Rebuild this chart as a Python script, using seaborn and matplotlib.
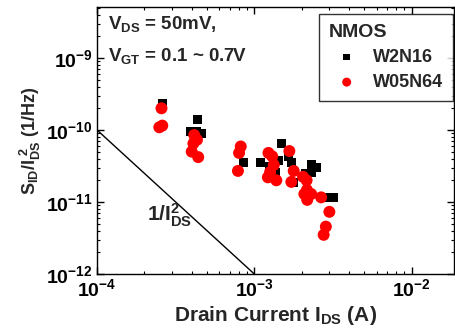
import numpy as np
import pandas as pd
import matplotlib
matplotlib.use("Agg")
import matplotlib.pyplot as plt
import seaborn as sns
from matplotlib.ticker import LogLocator, NullFormatter

sns.set_theme(style="ticks")
plt.rcParams['font.family'] = ['Liberation Sans', 'DejaVu Sans']
plt.rcParams['font.weight'] = 'bold'
plt.rcParams['mathtext.fontset'] = 'custom'
plt.rcParams['mathtext.rm'] = 'Liberation Sans:bold'
plt.rcParams['mathtext.it'] = 'Liberation Sans:bold'
plt.rcParams['mathtext.bf'] = 'Liberation Sans:bold'
plt.rcParams['mathtext.default'] = 'bf'

# W2N16 (black squares)
w2_x = [2.6e-4, 4.37e-4, 3.91e-4, 4.27e-4, 4.65e-4, 8.55e-4, 1.1e-3, 1.49e-3, 1.43e-3,
        1.25e-3, 1.37e-3, 1.64e-3, 1.72e-3, 1.78e-3, 2.11e-3, 2.3e-3, 2.48e-3, 2.3e-3,
        2.97e-3, 3.2e-3]
w2_y = [2.34e-10, 1.38e-10, 9.5e-11, 9.5e-11, 9.0e-11, 3.5e-11, 3.5e-11, 6.4e-11, 3.75e-11,
        3.1e-11, 2.6e-11, 4.3e-11, 3.5e-11, 1.86e-11, 2.5e-11, 3.27e-11, 3.0e-11, 2.56e-11,
        1.16e-11, 1.16e-11]

# W05N64 (red circles)
w05_x = [2.57e-4, 2.49e-4, 2.6e-4, 4.15e-4, 4.32e-4, 4.1e-4, 4.0e-4, 4.4e-4, 8.2e-4, 8.0e-4,
         7.87e-4, 1.23e-3, 1.3e-3, 1.33e-3, 1.26e-3, 1.22e-3, 1.38e-3, 1.67e-3, 1.78e-3,
         1.72e-3, 2.04e-3, 2.15e-3, 2.16e-3, 2.08e-3, 2.3e-3, 2.17e-3, 2.66e-3, 3.0e-3,
         2.85e-3, 2.76e-3]
w05_y = [2.0e-10, 1.09e-10, 1.15e-10, 8.5e-11, 7.3e-11, 6.5e-11, 5.0e-11, 4.2e-11, 5.9e-11,
         4.8e-11, 2.7e-11, 4.8e-11, 4.3e-11, 3.27e-11, 2.6e-11, 2.2e-11, 2.0e-11, 5.1e-11,
         2.7e-11, 1.9e-11, 2.24e-11, 2.0e-11, 1.47e-11, 1.29e-11, 1.29e-11, 1.07e-11,
         1.16e-11, 7.3e-12, 4.55e-12, 3.5e-12]

# 1/I^2 reference line
ref_x = np.array([1e-4, 1e-3])
ref_y = 1e-18 / ref_x**2

fig = plt.figure(figsize=(4.56, 3.33), dpi=100)
ax = fig.add_axes([97/456, 1 - 274/333, 357/456, 267/333])

sns.lineplot(x=ref_x, y=ref_y, ax=ax, color='black', linewidth=1.0, legend=False)
sns.scatterplot(x=w2_x, y=w2_y, ax=ax, marker='s', color='black', s=42,
                edgecolor='none', label='W2N16', zorder=3)
sns.scatterplot(x=w05_x, y=w05_y, ax=ax, marker='o', color='#ff0000', s=74,
                edgecolor='none', label='W05N64', zorder=4)

ax.set_xscale('log')
ax.set_yscale('log')
ax.set_xlim(1e-4, 1.86e-2)
ax.set_ylim(1e-12, 5.1e-9)

ax.xaxis.set_major_locator(LogLocator(base=10, numticks=10))
ax.xaxis.set_minor_locator(LogLocator(base=10, subs=np.arange(2, 10), numticks=20))
ax.yaxis.set_major_locator(LogLocator(base=10, numticks=10))
ax.yaxis.set_minor_locator(LogLocator(base=10, subs=np.arange(2, 10), numticks=20))
ax.xaxis.set_minor_formatter(NullFormatter())
ax.yaxis.set_minor_formatter(NullFormatter())

ax.tick_params(which='both', direction='in', top=True, right=True, colors='black',
               labelsize=14, pad=3)
ax.tick_params(which='major', length=5, width=1)
ax.tick_params(which='minor', length=2.5, width=0.8)
for lab in ax.get_xticklabels() + ax.get_yticklabels():
    lab.set_fontweight('bold')
for sp in ax.spines.values():
    sp.set_color('black')
    sp.set_linewidth(1.0)

ax.set_xlabel(r'Drain Current I$_{\mathbf{DS}}$ (A)', fontsize=15, fontweight='bold')
ax.xaxis.set_label_coords(0.5, -0.112)
ax.set_ylabel(r'S$_{\mathbf{ID}}$/I$_{\mathbf{DS}}^{\mathbf{\ 2}}$ (1/Hz)', fontsize=13,
              fontweight='bold', labelpad=2)

ax.text(0.03, 0.975, r'V$_{\mathbf{DS}}$ = 50mV,', transform=ax.transAxes, fontsize=13.5,
        fontweight='bold', va='top', ha='left')
ax.text(0.03, 0.855, r'V$_{\mathbf{GT}}$ = 0.1 ~ 0.7V', transform=ax.transAxes, fontsize=13.5,
        fontweight='bold', va='top', ha='left')
ax.text(2.9e-4, 6.6e-12, r'1/I$_{\mathbf{DS}}^{\mathbf{2}}$', fontsize=15, fontweight='bold',
        ha='center', va='center')

leg = ax.legend(title='NMOS', loc='upper right', frameon=True, fancybox=False,
                fontsize=13, title_fontsize=14, borderpad=0.55, handletextpad=0.45,
                markerscale=0.75, bbox_to_anchor=(0.997, 0.975), labelspacing=0.45,
                handlelength=2.0, borderaxespad=0)
leg.get_title().set_fontweight('bold')
for t in leg.get_texts():
    t.set_fontweight('bold')
leg.get_frame().set_edgecolor('black')
leg.get_frame().set_linewidth(1.0)
leg._legend_box.align = 'left'

fig.savefig('out.png', dpi=100)
